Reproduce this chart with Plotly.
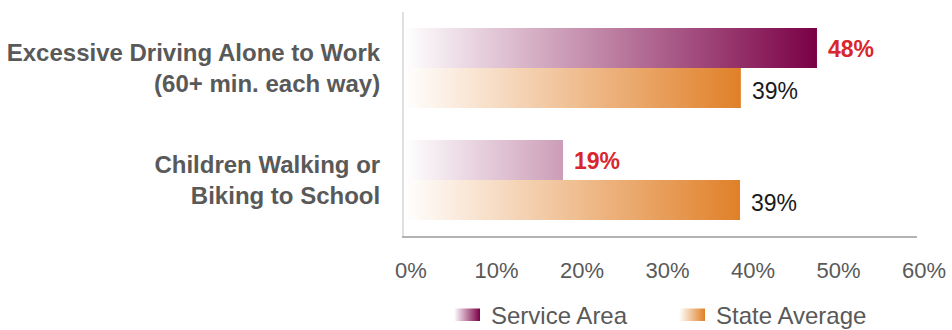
import plotly.graph_objects as go

categories = ["Excessive Driving Alone to Work<br>(60+ min. each way)", "Children Walking or<br>Biking to School"]
series_names = ["Service Area", "State Average"]
service_area = [48.3, 18.6]
state_average = [39.4, 39.3]
x_ticks = [0, 10, 20, 30, 40, 50, 60]
x_tick_labels = ["0%", "10%", "20%", "30%", "40%", "50%", "60%"]

series_values = [service_area, state_average]
end_colors = ["rgb(122,0,70)", "rgb(224,128,40)"]
grad_scales = [[[0, "rgb(255,255,255)"], [1, c]] for c in end_colors]
grad_stop = [max(service_area), max(state_average)]
FONT = "Liberation Sans, Arial, sans-serif"
label_styles = [dict(color="#d9262e", size=23, family=FONT, weight="bold"),
                dict(color="#1a1a1a", size=23, family=FONT)]

W, H = 952, 330
PL, PR, PT, PB = 404, 917, 12, 236  # plot area in pixels

n = len(categories)
centers = [n - 1 - i for i in range(n)]  # first category at top
half = 0.357

fig = go.Figure()
annotations = []
for s, (name, vals) in enumerate(zip(series_names, series_values)):
    xs, ys = [], []
    for c, v in zip(centers, vals):
        y0, y1 = (c, c + half) if s == 0 else (c - half, c)
        xs += [0, v, v, 0, 0, None]
        ys += [y0, y0, y1, y1, y0, None]
        annotations.append(dict(
            x=v, y=(y0 + y1) / 2, xref="x", yref="y", text=f"{v:.0f}%",
            showarrow=False, xanchor="left", yanchor="middle", xshift=9,
            yshift=-1 if s == 0 else -3, font=label_styles[s]))
    fig.add_trace(go.Scatter(
        x=xs, y=ys, mode="lines", fill="toself", name=name,
        line=dict(width=0, color="rgba(0,0,0,0)"),
        fillgradient=dict(type="horizontal", colorscale=grad_scales[s], start=0, stop=grad_stop[s]),
        hoverinfo="skip", showlegend=False,
    ))

# custom legend with gradient swatches (pixel-like helper axes in the bottom margin)
legend_swatch_x = [454, 679]
sw_w, sw_y0, sw_y1 = 26, 9, 21.5
for s, name in enumerate(series_names):
    x0 = legend_swatch_x[s]
    fig.add_trace(go.Scatter(
        x=[x0, x0 + sw_w, x0 + sw_w, x0, x0], y=[sw_y0, sw_y0, sw_y1, sw_y1, sw_y0],
        xaxis="x2", yaxis="y2", mode="lines", fill="toself",
        line=dict(width=0, color="rgba(0,0,0,0)"),
        fillgradient=dict(type="horizontal", colorscale=grad_scales[s], start=x0, stop=x0 + sw_w),
        hoverinfo="skip", showlegend=False,
    ))
    annotations.append(dict(
        x=x0 + sw_w + 9, y=14.5, xref="x2", yref="y2", text=name, showarrow=False,
        xanchor="left", yanchor="middle", font=dict(size=24, color="#595959", family=FONT)))

fig.update_layout(
    width=W, height=H,
    margin=dict(l=0, r=0, t=0, b=0, autoexpand=False),
    plot_bgcolor="white", paper_bgcolor="white",
    font=dict(family=FONT, color="#595959", size=22),
    showlegend=False,
    annotations=annotations,
    xaxis=dict(domain=[PL / W, PR / W], range=[0, 60], tickvals=x_ticks, ticktext=x_tick_labels,
               showgrid=False, zeroline=False, showline=True, linecolor="#b3b3b3", linewidth=2,
               ticks="", ticklabelstandoff=14, ticklabelshift=7, fixedrange=True, automargin=False,
               tickfont=dict(size=22, color="#595959", family=FONT)),
    yaxis=dict(domain=[(H - PB) / H, (H - PT) / H], range=[-0.5, n - 0.5], tickvals=centers,
               ticktext=categories, showgrid=False, zeroline=False, showline=True,
               linecolor="#e0e0e0", linewidth=2, ticks="", ticklabelstandoff=17, automargin=False,
               fixedrange=True,
               tickfont=dict(size=24, color="#595959", family=FONT, weight="bold")),
    xaxis2=dict(domain=[0, 1], range=[0, W], visible=False, anchor="y2", fixedrange=True),
    yaxis2=dict(domain=[0, (H - PB) / H], range=[0, H - PB], visible=False, anchor="x2",
                fixedrange=True),
)
fig.write_html("out.html")
